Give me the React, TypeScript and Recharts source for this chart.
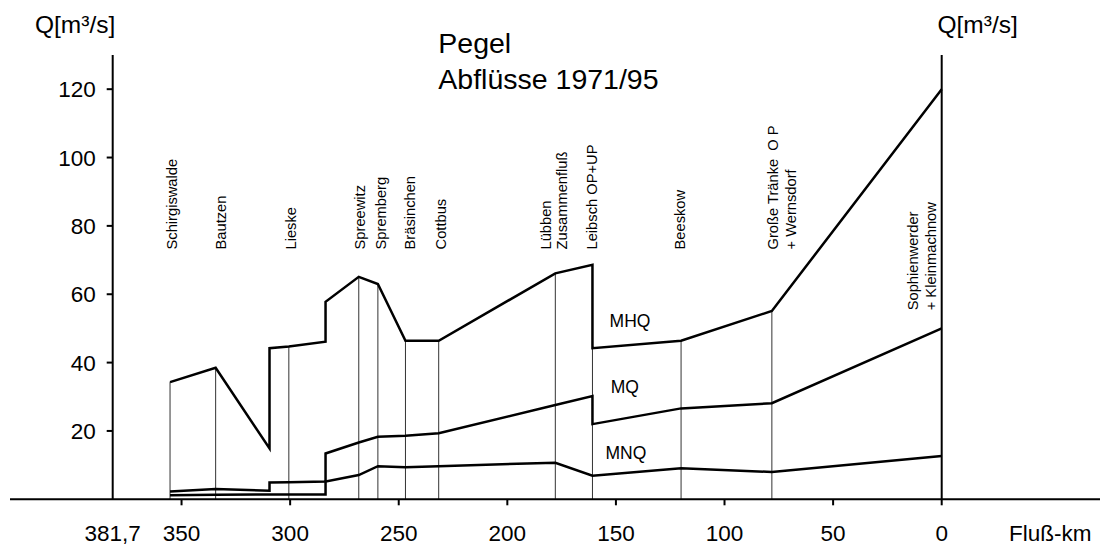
import React from 'react';
import { ComposedChart, Line, XAxis, YAxis, ReferenceLine, ReferenceDot } from 'recharts';

const FONT = '"Liberation Sans", Arial, Helvetica, sans-serif';

// axis ticks
const kmTicks = [381.7, 350, 300, 250, 200, 150, 100, 50, 0];
const qTicks = [20, 40, 60, 80, 100, 120];

// MHQ (km, Q) - doubled km = jump at an inflow
const mhqKm = [355.3, 334.3, 309.5, 309.5, 300.6, 283.7, 283.7, 268.4, 259.6, 246.9, 231.6, 177.9, 160.8, 160.8, 120.0, 78.2, 0];
const mhqQ = [34.3, 38.5, 14.9, 44.2, 44.7, 46.1, 57.8, 65.1, 63.0, 46.4, 46.4, 66.1, 68.6, 44.2, 46.4, 55.1, 120.0];

// MQ
const mqKm = [355.3, 334.3, 309.5, 309.5, 300.6, 283.7, 283.7, 268.4, 259.6, 246.9, 231.6, 177.9, 160.8, 160.8, 120.0, 78.2, 0];
const mqQ = [2.3, 3.0, 2.5, 4.9, 5.0, 5.2, 13.4, 16.6, 18.3, 18.6, 19.3, 27.6, 30.2, 22.0, 26.6, 28.1, 50.0];

// MNQ
const mnqKm = [355.3, 334.3, 309.5, 300.6, 283.7, 283.7, 268.4, 259.6, 246.9, 231.6, 177.9, 160.8, 120.0, 78.2, 0];
const mnqQ = [1.2, 1.3, 1.4, 1.4, 1.4, 5.2, 7.1, 9.7, 9.4, 9.7, 10.7, 6.9, 9.1, 8.0, 12.7];

// gauges
const stationKm = [355.3, 334.3, 300.6, 268.4, 259.6, 246.9, 231.6, 177.9, 160.8, 120.0, 78.2, 0];
const stationTopQ = [34.3, 38.5, 44.7, 65.1, 63.0, 46.4, 46.4, 66.1, 68.6, 46.4, 55.1, 120.0];
const stationNames = [
  ['Schirgiswalde'],
  ['Bautzen'],
  ['Lieske'],
  ['Spreewitz'],
  ['Spremberg'],
  ['Bräsinchen'],
  ['Cottbus'],
  ['Lübben', 'Zusammenfluß'],
  ['Leibsch OP+UP'],
  ['Beeskow'],
  ['Große Tränke  O P', '+ Wernsdorf'],
  ['Sophienwerder', '+ Kleinmachnow'],
];

// label layout (px offset of each text line's baseline from the gauge line)
const labelDx = [[7], [10], [7], [6], [8], [9.5], [7], [-4, 12], [4.5], [4], [6, 24], [-23.3, -6]];
const labelBottomQ = [73.1, 73.1, 73.1, 73.1, 73.1, 73.1, 73.1, 73.1, 73.1, 73.1, 73.1, 55.3];

const toPoints = (km: number[], q: number[]) => km.map((k, i) => ({ km: k, q: q[i] }));

const mhqData = toPoints(mhqKm, mhqQ);
const mqData = toPoints(mqKm, mqQ);
const mnqData = toPoints(mnqKm, mnqQ);

function KmTick(props: any) {
  const { x, y, payload } = props;
  const v = payload.value;
  return (
    <g>
      {v !== 381.7 && <line x1={x} y1={y - 6} x2={x} y2={y} stroke="#000" strokeWidth={2} />}
      <text x={x} y={y + 36} textAnchor="middle" fontSize={22.5} fontFamily={FONT} fill="#000">
        {String(v).replace('.', ',')}
      </text>
    </g>
  );
}

const stationLabel = (lines: string[], dx: number[]) => (p: any) => (
  <g>
    {lines.map((t, j) => {
      const x = p.cx + dx[j];
      const y = p.cy;
      return (
        <text
          key={j}
          x={x}
          y={y}
          transform={`rotate(-90 ${x} ${y})`}
          fontSize={14.7}
          fontFamily={FONT}
          fill="#000"
          style={{ whiteSpace: 'pre' }}
        >
          {t}
        </text>
      );
    })}
  </g>
);

const seriesLabel = (text: string) => (p: any) => (
  <text x={p.cx} y={p.cy} fontSize={17.5} fontFamily={FONT} fill="#000">
    {text}
  </text>
);

export default function App() {
  const axisStyle = { stroke: '#000', strokeWidth: 2 };
  const tickStyle = { fontSize: 22.5, fill: '#000', fontFamily: FONT };
  return (
    <div style={{ position: 'relative', width: 1102, height: 549, background: '#fff' }}>
      <style>{'body{margin:0;overflow:hidden;background:#fff}'}</style>
      <ComposedChart
        width={1102}
        height={549}
        margin={{ top: 55, right: 100.3, bottom: 9.7, left: 52.7 }}
        style={{ fontFamily: FONT }}
      >
        <XAxis
          xAxisId={0}
          dataKey="km"
          type="number"
          domain={[0, 381.7]}
          reversed
          ticks={kmTicks}
          interval={0}
          axisLine={false}
          tickLine={false}
          tickSize={6}
          tickMargin={0}
          height={40}
          tick={<KmTick />}
        />
        <YAxis
          yAxisId="left"
          orientation="left"
          type="number"
          domain={[0, 130]}
          ticks={qTicks}
          interval={0}
          width={60}
          axisLine={axisStyle}
          tickLine={axisStyle}
          tickSize={6}
          tickMargin={11}
          tick={tickStyle}
        />
        <YAxis
          yAxisId="right"
          orientation="right"
          type="number"
          domain={[0, 130]}
          ticks={qTicks}
          interval={0}
          width={60}
          axisLine={axisStyle}
          tickLine={axisStyle}
          tickSize={6}
          tickMargin={12}
          tick={tickStyle}
        />

        {stationKm.map((km, i) =>
          km > 0 ? (
            <ReferenceLine
              key={'l' + i}
              yAxisId="left"
              segment={[{ x: km, y: 0 }, { x: km, y: stationTopQ[i] }]}
              stroke="#333"
              strokeWidth={1}
              ifOverflow="visible"
            />
          ) : null
        )}

        <Line data={mhqData} yAxisId="left" dataKey="q" type="linear" stroke="#000" strokeWidth={2.5} dot={false} isAnimationActive={false} />
        <Line data={mqData} yAxisId="left" dataKey="q" type="linear" stroke="#000" strokeWidth={2.5} dot={false} isAnimationActive={false} />
        <Line data={mnqData} yAxisId="left" dataKey="q" type="linear" stroke="#000" strokeWidth={2.5} dot={false} isAnimationActive={false} />

        {stationNames.map((lines, i) => (
          <ReferenceDot
            key={'s' + i}
            yAxisId="left"
            x={stationKm[i]}
            y={labelBottomQ[i]}
            r={1}
            ifOverflow="visible"
            shape={stationLabel(lines, labelDx[i])}
          />
        ))}

        <ReferenceDot yAxisId="left" x={152.9} y={50.5} r={1} ifOverflow="visible" shape={seriesLabel('MHQ')} />
        <ReferenceDot yAxisId="left" x={152.4} y={31.0} r={1} ifOverflow="visible" shape={seriesLabel('MQ')} />
        <ReferenceDot yAxisId="left" x={154.8} y={11.8} r={1} ifOverflow="visible" shape={seriesLabel('MNQ')} />
      </ComposedChart>

      <svg
        width={1102}
        height={549}
        style={{ position: 'absolute', left: 0, top: 0, pointerEvents: 'none' }}
        fontFamily={FONT}
      >
        <line x1={10} y1={499.3} x2={1100} y2={499.3} stroke="#000" strokeWidth={2} />
        <text x={35} y={33} fontSize={24.5} fill="#000">Q[m³/s]</text>
        <text x={937.5} y={33} fontSize={24.5} fill="#000">Q[m³/s]</text>
        <text x={438.3} y={53} fontSize={28.5} fill="#000">Pegel</text>
        <text x={438.3} y={89} fontSize={28.5} fill="#000">Abflüsse 1971/95</text>
        <text x={1009} y={540.8} fontSize={22.5} fill="#000">Fluß-km</text>
      </svg>
    </div>
  );
}
